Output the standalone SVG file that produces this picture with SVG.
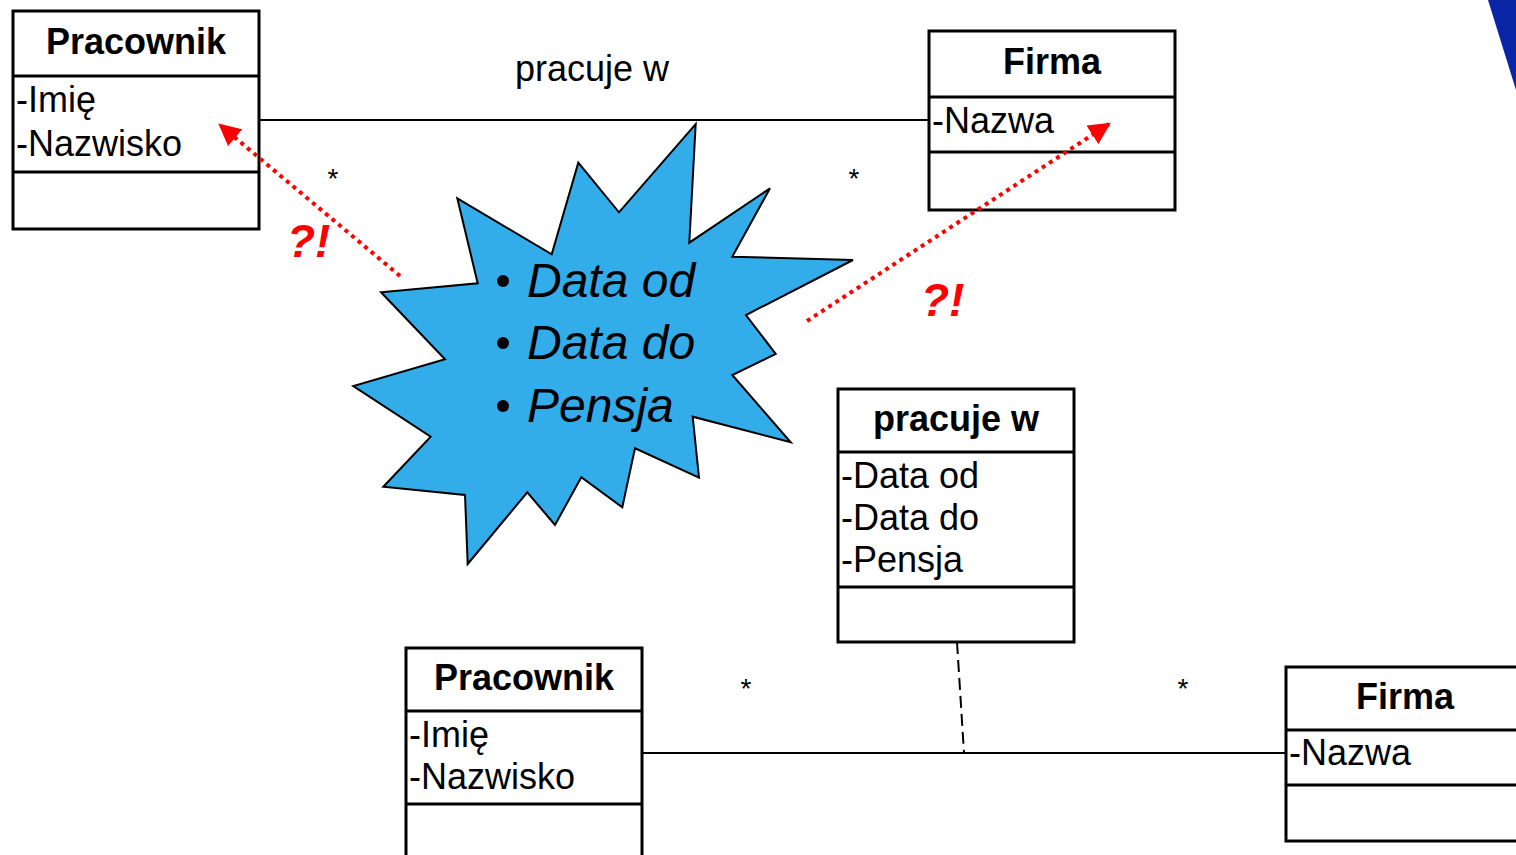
<svg xmlns="http://www.w3.org/2000/svg" width="1516" height="855" viewBox="0 0 1516 855">
  <defs>
    <style>
      .box { fill: #ffffff; stroke: #000000; stroke-width: 3; }
      .div { stroke: #000000; stroke-width: 3; }
      .title { font-family: "Liberation Sans", Arial, sans-serif; font-weight: bold; font-size: 36px; fill: #000000; text-anchor: middle; }
      .attr { font-family: "Liberation Sans", Arial, sans-serif; font-size: 36px; fill: #000000; }
      .label { font-family: "Liberation Sans", Arial, sans-serif; font-size: 36px; fill: #000000; }
      .mult { font-family: "Liberation Sans", Arial, sans-serif; font-size: 28px; fill: #000000; text-anchor: middle; }
      .assoc { stroke: #000000; stroke-width: 2; fill: none; }
      .dash { stroke: #000000; stroke-width: 2; fill: none; stroke-dasharray: 12 6; }
      .hint { stroke: #ff0000; stroke-width: 4; fill: none; stroke-dasharray: 4 4.5; }
      .qx { font-family: "Liberation Sans", Arial, sans-serif; font-weight: bold; font-style: italic; font-size: 46px; fill: #ff0000; }
      .star-text { font-family: "Liberation Sans", Arial, sans-serif; font-style: italic; font-size: 48px; fill: #000000; }
    </style>
    <marker id="redHead" viewBox="0 0 10 10" refX="9" refY="5" markerWidth="5.5" markerHeight="5.5" markerUnits="strokeWidth" orient="auto">
      <path d="M0,0 L10,5 L0,10 z" fill="#ff0000"/>
    </marker>
  </defs>

  <!-- corner accent -->
  <polygon points="1488,0 1516,0 1516,90" fill="#0A24A6"/>

  <!-- associations -->
  <g id="connectors">
    <line class="assoc" x1="259" y1="120" x2="929" y2="120"/>
    <line class="assoc" x1="642" y1="753" x2="1286" y2="753"/>
    <line class="dash" x1="957" y1="642" x2="964" y2="753"/>
  </g>

  <g id="labels">
    <text class="label" x="515" y="81">pracuje w</text>
    <text class="mult" x="333" y="188">*</text>
    <text class="mult" x="854" y="188">*</text>
    <text class="mult" x="746" y="698">*</text>
    <text class="mult" x="1183" y="698">*</text>
  </g>

  <!-- burst with the link attributes -->
  <g id="burst">
    <polygon points="695.7,124 689.3,242.7 770,188.3 732.3,256.7 853,260 746,315 775.7,354 732.3,375 790.7,442.3 692.7,416.7 699,477.7 635,448.3 622.3,507.3 581.3,477.3 555,525 527.3,492.3 467.7,564 465,495 383.3,486.7 430.7,436.7 353.3,386 445,359.3 381,292.3 477.7,283.3 457.3,198.3 551.7,254.3 578.3,162.7 619,212.3" fill="#33ACEA" stroke="#000000" stroke-width="2" stroke-linejoin="miter"/>
    <circle cx="503" cy="281" r="6" fill="#000000"/>
    <circle cx="503" cy="343" r="6" fill="#000000"/>
    <circle cx="503" cy="406" r="6" fill="#000000"/>
    <text class="star-text" x="527" y="297">Data od</text>
    <text class="star-text" x="527" y="359">Data do</text>
    <text class="star-text" x="527" y="422">Pensja</text>
  </g>

  <!-- class: Pracownik (top) -->
  <g id="pracownik-top">
    <rect class="box" x="13" y="11" width="246" height="218"/>
    <line class="div" x1="13" y1="76" x2="259" y2="76"/>
    <line class="div" x1="13" y1="172" x2="259" y2="172"/>
    <text class="title" x="136" y="54">Pracownik</text>
    <text class="attr" x="16" y="112">-Imię</text>
    <text class="attr" x="16" y="156">-Nazwisko</text>
  </g>

  <!-- class: Firma (top) -->
  <g id="firma-top">
    <rect class="box" x="929" y="31" width="246" height="179"/>
    <line class="div" x1="929" y1="97" x2="1175" y2="97"/>
    <line class="div" x1="929" y1="152" x2="1175" y2="152"/>
    <text class="title" x="1052" y="74">Firma</text>
    <text class="attr" x="932" y="133">-Nazwa</text>
  </g>

  <!-- association class: pracuje w -->
  <g id="pracuje-w">
    <rect class="box" x="838" y="389" width="236" height="253"/>
    <line class="div" x1="838" y1="452" x2="1074" y2="452"/>
    <line class="div" x1="838" y1="587" x2="1074" y2="587"/>
    <text class="title" x="956" y="431">pracuje w</text>
    <text class="attr" x="841" y="488">-Data od</text>
    <text class="attr" x="841" y="530">-Data do</text>
    <text class="attr" x="841" y="572">-Pensja</text>
  </g>

  <!-- class: Pracownik (bottom) -->
  <g id="pracownik-bottom">
    <rect class="box" x="406" y="648" width="236" height="220"/>
    <line class="div" x1="406" y1="711" x2="642" y2="711"/>
    <line class="div" x1="406" y1="804" x2="642" y2="804"/>
    <text class="title" x="524" y="690">Pracownik</text>
    <text class="attr" x="409" y="747">-Imię</text>
    <text class="attr" x="409" y="789">-Nazwisko</text>
  </g>

  <!-- class: Firma (bottom) -->
  <g id="firma-bottom">
    <rect class="box" x="1286" y="667" width="246" height="174"/>
    <line class="div" x1="1286" y1="730" x2="1532" y2="730"/>
    <line class="div" x1="1286" y1="785" x2="1532" y2="785"/>
    <text class="title" x="1405" y="709">Firma</text>
    <text class="attr" x="1289" y="765">-Nazwa</text>
  </g>

  <!-- red dotted pointers drawn above the classes -->
  <g id="pointers">
    <line class="hint" x1="400" y1="276" x2="220" y2="125" marker-end="url(#redHead)"/>
    <line class="hint" x1="807" y1="321" x2="1109" y2="124" marker-end="url(#redHead)"/>
    <text class="qx" x="287" y="257">?!</text>
    <text class="qx" x="921" y="316">?!</text>
  </g>
</svg>
